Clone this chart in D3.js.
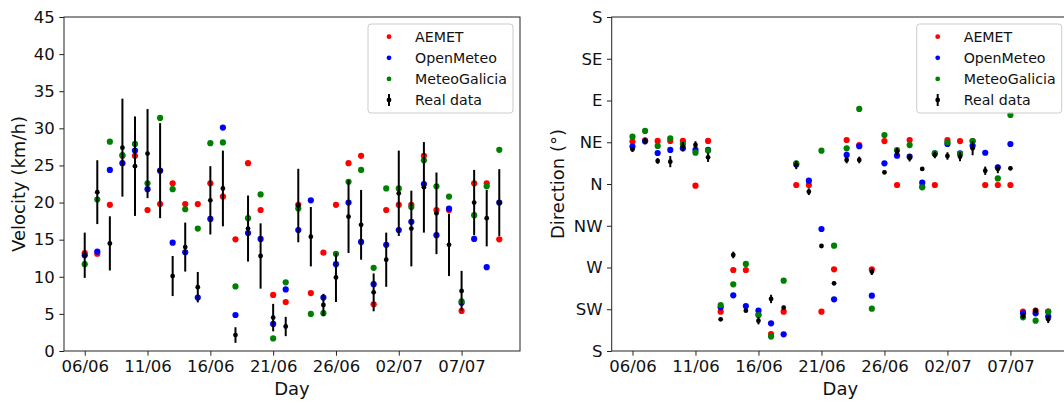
<!DOCTYPE html>
<html><head><meta charset="utf-8">
<script src="https://cdn.jsdelivr.net/npm/d3@7"></script>
<style>
html,body{margin:0;padding:0;background:#fff;}
svg{display:block;font-family:"DejaVu Sans",sans-serif;}
</style></head>
<body>
<svg id="chart" width="1064" height="403"></svg>
<script>
// ---- DATA ----
const days = ["06/06","07/06","08/06","09/06","10/06","11/06","12/06","13/06","14/06","15/06",
  "16/06","17/06","18/06","19/06","20/06","21/06","22/06","23/06","24/06","25/06",
  "26/06","27/06","28/06","29/06","30/06","02/07","03/07","04/07","05/07","06/07",
  "07/07","08/07","09/07","10/07"];
const tickDays = ["06/06","11/06","16/06","21/06","26/06","02/07","07/07"];
const seriesNames = ["AEMET","OpenMeteo","MeteoGalicia","Real data"];

// Velocity (km/h)
const aemetVel = [13.2,13.1,19.7,26.3,26.3,19.0,19.8,22.6,19.8,19.8,22.6,20.8,15.05,25.3,19.0,7.55,6.6,19.7,7.8,13.25,19.7,25.3,26.3,6.3,19.0,19.7,19.7,26.3,19.0,19.0,5.4,22.6,22.6,15.05];
const openVel  = [12.9,13.4,24.4,25.3,27.0,21.8,24.3,14.6,13.3,7.2,17.8,30.1,4.85,15.9,15.1,3.65,8.3,16.3,20.3,7.2,11.7,20.0,14.7,9.0,14.3,16.3,17.4,22.5,15.6,19.2,6.5,15.1,11.3,20.0];
const mgVel    = [11.7,20.4,28.2,26.4,27.9,22.6,31.4,21.8,19.1,16.5,28.0,28.1,8.7,17.9,21.1,1.7,9.25,19.2,5.0,5.1,13.1,22.8,24.4,11.2,21.9,21.9,19.4,25.7,22.2,20.8,6.7,18.3,22.2,27.1];
const realVel  = [12.9,21.4,14.5,27.4,24.9,26.6,24.3,10.1,14.0,8.6,20.3,21.9,2.15,16.5,12.8,4.5,3.3,19.6,15.4,6.2,9.9,18.1,17.0,7.9,12.3,21.25,16.5,22.05,18.55,14.3,8.1,20.0,17.9,20.0];
const realVelErr = [3.05,4.3,3.65,6.6,6.7,6.0,6.4,2.7,3.3,2.05,4.6,5.1,1.05,4.45,4.4,1.85,1.3,4.95,4.0,1.5,3.3,4.9,4.7,2.55,3.65,5.75,5.1,6.1,5.5,4.2,2.7,4.4,3.8,4.5];

// Direction (degrees, unwrapped: 180=S ... 360=N ... 540=S)
const dirTicks = [180,225,270,315,360,405,450,495,540];
const dirLabels = ["S","SW","W","NW","N","NE","E","SE","S"];
const aemetDir = [405.7,407,406.4,406.4,406.4,358.2,406.4,222.4,267.3,267.3,219,198.3,222.4,358.9,358.9,222.4,268.0,407.4,402,268.0,406.3,358.9,407.4,357,358.9,407.4,406.3,406.3,358.9,358.9,358.9,222.4,223.5,222.4];
const openDir  = [400.3,406,393.4,396.7,398.5,396.7,396.7,227.1,240.0,228.5,223.5,209.8,198.0,381,363.6,311.5,235.7,391.3,400.7,239.6,382.3,390.5,389.4,361.4,393,403.1,393,401.3,393.7,378,403.1,220.6,220.6,217.0];
const mgDir    = [411.0,417.2,401.0,409.2,403.1,393.8,396.0,229.6,251.9,273.8,218.8,195.5,255.8,382.3,null,395.9,293.5,398.5,440.9,225.6,412.8,396.6,402,356.4,393,404.9,392.4,406.3,null,366,434.4,216.3,212.7,222.4];
const realDir  = [397.4,406.4,384.8,384.1,400.3,402.1,388.8,214.1,283.5,223.5,212.7,236.1,226.7,380.5,351.7,293.2,252.9,385.9,385.9,265.5,372.6,394.9,388.3,376.2,391.3,390.2,389.4,398.5,374.3,376.2,376.9,217.7,223.5,214.1];
const realDirErr = [2.7,3.5,3,6,5,4,5,1.5,3.6,1.5,4,4.5,2,4.5,3.6,2,2,3.6,3.6,3.6,2,4,4,2,3.6,4,4.8,7.5,4.5,4.5,2,3,3,4];

const colors = ["#ff0000","#0000ff","#008000","#000000"];

// ---- DRAW ----
const svg = d3.select("#chart");
const idx = days.map((d,i)=>i);
const tickIdx = tickDays.map(t=>days.indexOf(t));
const FS_TICK = 16.5, FS_LAB = 18, FS_LEG = 14.2;

function panel(opt){
  const {left,right,top,bottom,yDomain,yTicks,yFmt,ylabel,ylabelX,series,real,realErr,legendX} = opt;
  const g = svg.append("g");
  const x = d3.scaleLinear().domain([-1.65, 34.65]).range([left,right]);
  const y = d3.scaleLinear().domain(yDomain).range([bottom,top]);

  // points
  series.forEach((s,k)=>{
    g.append("g").selectAll("circle").data(idx.filter(i=>s[i]!=null)).join("circle")
      .attr("cx",i=>x(i)).attr("cy",i=>y(s[i])).attr("r",3.1).attr("fill",colors[k]);
  });
  const rg = g.append("g");
  rg.selectAll("line").data(idx).join("line")
    .attr("x1",i=>x(i)).attr("x2",i=>x(i))
    .attr("y1",i=>y(real[i]-realErr[i])).attr("y2",i=>y(real[i]+realErr[i]))
    .attr("stroke","#000").attr("stroke-width",2);
  rg.selectAll("circle").data(idx).join("circle")
    .attr("cx",i=>x(i)).attr("cy",i=>y(real[i])).attr("r",2.4).attr("fill","#000");

  // axes
  const xa = g.append("g").attr("transform",`translate(0,${bottom})`)
    .call(d3.axisBottom(x).tickValues(tickIdx).tickFormat(i=>days[i]).tickSize(4.7).tickPadding(4.5));
  const ya = g.append("g").attr("transform",`translate(${left},0)`)
    .call(d3.axisLeft(y).tickValues(yTicks).tickFormat(yFmt).tickSize(4.7).tickPadding(4.5));
  [xa,ya].forEach(a=>{
    a.select(".domain").remove();
    a.selectAll("line").attr("stroke","#222").attr("stroke-width",1);
    a.selectAll("text").attr("font-size",FS_TICK).attr("font-family","DejaVu Sans").attr("fill","#111");
  });
  // frame
  g.append("rect").attr("x",left).attr("y",top).attr("width",right-left).attr("height",bottom-top)
    .attr("fill","none").attr("stroke","#222").attr("stroke-width",1);
  // labels
  g.append("text").attr("x",(left+Math.min(right,1064)+ (right>1064? right-1064:0))/2).attr("y",395)
    .attr("text-anchor","middle").attr("font-size",FS_LAB).attr("fill","#111").text("Day");
  g.append("text").attr("transform",`translate(${ylabelX},${(top+bottom)/2}) rotate(-90)`)
    .attr("text-anchor","middle").attr("font-size",FS_LAB).attr("fill","#111").text(ylabel);

  // legend
  const lg = g.append("g").attr("transform",`translate(${legendX},24)`);
  lg.append("rect").attr("x",0).attr("y",0).attr("width",145).attr("height",89).attr("rx",3)
    .attr("fill","#fff").attr("fill-opacity",0.8).attr("stroke","#ccc").attr("stroke-width",1);
  seriesNames.forEach((n,k)=>{
    const cy = 12.7 + k*21.1;
    if(k<3){
      lg.append("circle").attr("cx",21).attr("cy",cy).attr("r",2.4).attr("fill",colors[k]);
    } else {
      lg.append("line").attr("x1",21).attr("x2",21).attr("y1",cy-6).attr("y2",cy+6)
        .attr("stroke","#000").attr("stroke-width",2);
      lg.append("circle").attr("cx",21).attr("cy",cy).attr("r",2.4).attr("fill","#000");
    }
    lg.append("text").attr("x",47).attr("y",cy).attr("dy","0.36em").attr("font-size",FS_LEG)
      .attr("fill","#111").text(n);
  });
}

panel({left:64,right:520,top:17,bottom:351,yDomain:[0,45],yTicks:d3.range(0,46,5),yFmt:d=>d,
  ylabel:"Velocity (km/h)",ylabelX:25,series:[aemetVel,openVel,mgVel],real:realVel,realErr:realVelErr,legendX:368});
panel({left:611.7,right:1069,top:17,bottom:351,yDomain:[180,540],yTicks:dirTicks,
  yFmt:d=>dirLabels[dirTicks.indexOf(d)],
  ylabel:"Direction (°)",ylabelX:564,series:[aemetDir,openDir,mgDir],real:realDir,realErr:realDirErr,legendX:916.7});
</script>
</body></html>
